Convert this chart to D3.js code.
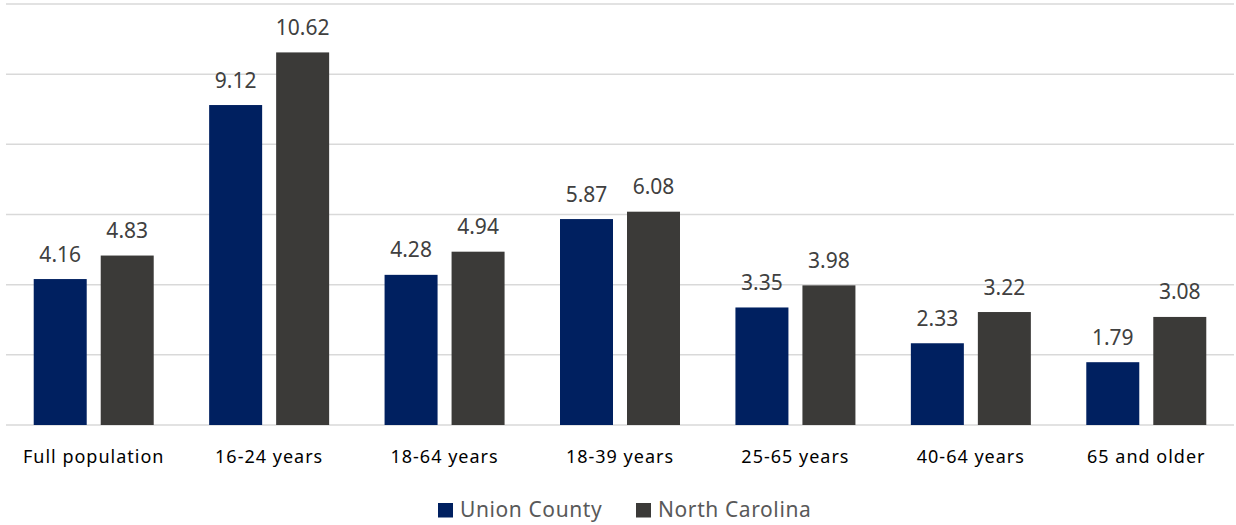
<!DOCTYPE html>
<html><head><meta charset="utf-8">
<script src="https://cdn.jsdelivr.net/npm/d3@7"></script>
<style>body{margin:0;background:#fff}svg{display:block}text{font-family:"Segoe UI","Noto Sans","Open Sans",sans-serif}</style>
</head><body><svg id="c" width="1236" height="525"></svg>
<script>
const categories = ["Full population","16-24 years","18-64 years","18-39 years","25-65 years","40-64 years","65 and older"];
const seriesNames = ["Union County","North Carolina"];
const unionCounty = [4.16,9.12,4.28,5.87,3.35,2.33,1.79];
const northCarolina = [4.83,10.62,4.94,6.08,3.98,3.22,3.08];
const gridTicks = [0,2,4,6,8,10,12];
const colors = ["#002060","#3B3A38"];

(function(){
const svg = d3.select("#c");
const mLeft = 6, mRight = 1234, mTop = 4, mBottom = 425;
const x = d3.scaleBand().domain(categories).range([mLeft, mRight]).padding(0);
const y = d3.scaleLinear().domain([0,12]).range([mBottom, mTop]);
const sub = d3.scaleBand().domain(seriesNames).range([0, 120]).paddingInner(14/67);
const groupOffset = (x.bandwidth() - 120) / 2;

svg.append("g").selectAll("line").data(gridTicks).join("line")
  .attr("x1", mLeft).attr("x2", mRight)
  .attr("y1", d => y(d)).attr("y2", d => y(d))
  .attr("stroke", "#d9d9d9").attr("stroke-width", 1.5);

const data = categories.map((c,i) => ({c, vals:[unionCounty[i], northCarolina[i]]}));
const g = svg.append("g").selectAll("g").data(data).join("g")
  .attr("transform", d => `translate(${x(d.c)+groupOffset},0)`);
g.selectAll("rect").data(d => d.vals.map((v,j)=>({v, s:seriesNames[j], j}))).join("rect")
  .attr("x", d => sub(d.s)).attr("width", sub.bandwidth())
  .attr("y", d => y(d.v)).attr("height", d => y(0)-y(d.v))
  .attr("fill", d => colors[d.j]);
g.selectAll("text").data(d => d.vals.map((v,j)=>({v, s:seriesNames[j], j}))).join("text")
  .attr("x", d => sub(d.s) + sub.bandwidth()/2).attr("y", d => y(d.v) - 17.5)
  .attr("text-anchor","middle").attr("font-size", 21).attr("fill", "#404040")
  .text(d => d.v.toFixed(2));

svg.append("g").selectAll("text").data(categories).join("text")
  .attr("x", d => x(d) + x.bandwidth()/2).attr("y", 463)
  .attr("text-anchor","middle").attr("font-size", 18).attr("letter-spacing", 1)
  .attr("fill","#000")
  .text(d => d);

const legX = [438, 636];
const leg = svg.append("g").selectAll("g").data(seriesNames).join("g")
  .attr("transform", (d,i) => `translate(${legX[i]},503)`);
leg.append("rect").attr("width", 15).attr("height", 14.5).attr("fill", (d,i) => colors[i]);
leg.append("text").attr("x", 22).attr("y", 14.3).attr("font-size", 21).attr("letter-spacing", 0.6)
  .attr("fill","#595959").text(d => d);
})();
</script></body></html>
